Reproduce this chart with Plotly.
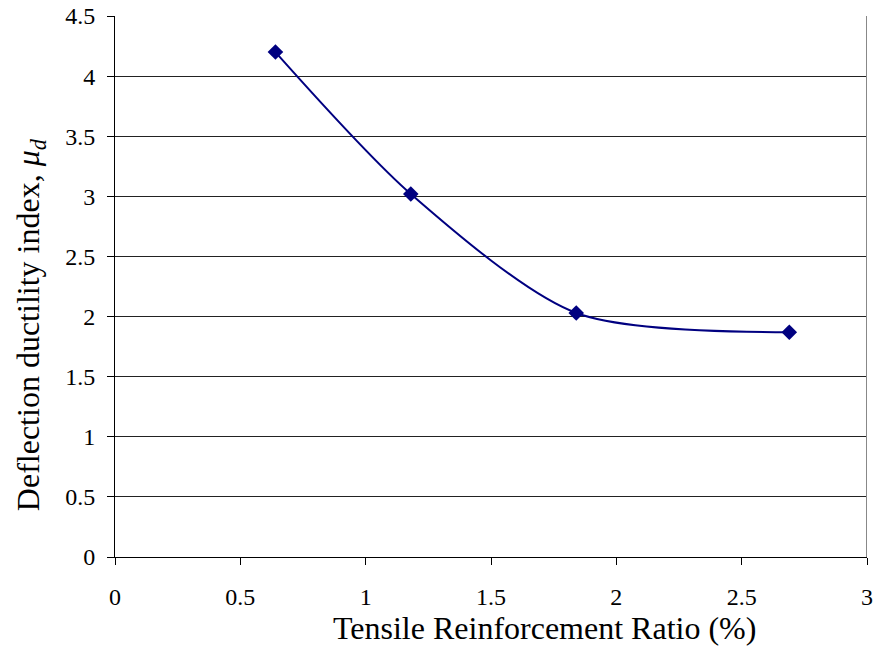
import plotly.graph_objects as go

# Tensile reinforcement ratio (%) vs. deflection ductility index
ratio = [0.64, 1.18, 1.84, 2.69]
ductility = [4.20, 3.02, 2.03, 1.87]

x_ticks = [0, 0.5, 1, 1.5, 2, 2.5, 3]
x_tick_text = ["0", "0.5", "1", "1.5", "2", "2.5", "3"]
y_ticks = [0, 0.5, 1, 1.5, 2, 2.5, 3, 3.5, 4, 4.5]
y_tick_text = ["0", "0.5", "1", "1.5", "2", "2.5", "3", "3.5", "4", "4.5"]

x_title = "Tensile Reinforcement Ratio (%)"
y_title = "Deflection ductility index, <i>μ<sub>d</sub></i>"

font_family = "Liberation Serif, Times New Roman, serif"

fig = go.Figure()
fig.add_trace(go.Scatter(
    x=ratio, y=ductility,
    mode="lines+markers",
    line=dict(color="#000080", width=2, shape="spline", smoothing=0.8),
    marker=dict(symbol="diamond", size=12, color="#000080"),
    showlegend=False,
))

fig.update_layout(
    width=877, height=665,
    margin=dict(l=115, r=10, t=16, b=108),
    paper_bgcolor="white", plot_bgcolor="white",
    font=dict(family=font_family, color="black", size=24),
    xaxis=dict(
        range=[0, 3], tickvals=x_ticks, ticktext=x_tick_text,
        showgrid=False, zeroline=False,
        showline=True, linecolor="black", linewidth=1,
        ticks="outside", ticklen=7, tickcolor="black",
        tickfont=dict(size=24), ticklabelstandoff=11,
        automargin=False,
    ),
    yaxis=dict(
        range=[0, 4.5], tickvals=y_ticks, ticktext=y_tick_text,
        showgrid=True, gridcolor="#222222", gridwidth=1,
        zeroline=False,
        showline=True, linecolor="black", linewidth=1,
        ticks="outside", ticklen=7, tickcolor="black",
        tickfont=dict(size=24), ticklabelstandoff=7,
        automargin=False,
    ),
)

# axis titles, placed as free text below and left of the plotting area
fig.add_annotation(text=x_title, xref="paper", yref="paper",
                   x=0.5705, y=-0.131, xanchor="center", yanchor="middle",
                   showarrow=False, font=dict(size=32))
fig.add_annotation(text=y_title, xref="paper", yref="paper",
                   x=-0.112, y=0.43, xanchor="center", yanchor="middle",
                   textangle=-90, showarrow=False, font=dict(size=32))

# grey frame on the right side of the plotting area
fig.add_shape(type="line", xref="x", yref="paper", x0=3, x1=3, y0=0, y1=1,
              line=dict(color="#888888", width=2))

fig.write_html("out.html")
